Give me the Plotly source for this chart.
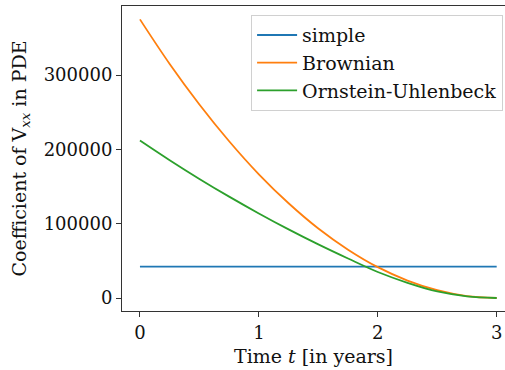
import plotly.graph_objects as go

t = [0, 0.25, 0.5, 0.75, 1.0, 1.25, 1.5, 1.75, 2.0, 2.25, 2.5, 2.75, 3.0]
simple = [42100] * len(t)
brownian = [375000, 315000, 260500, 211000, 166500, 127500, 93500, 65000, 41500, 23500, 10500, 2600, 0]
ou = [212000, 185500, 160300, 136400, 113800, 92300, 72100, 53100, 35000, 20500, 8800, 2300, 0]

names = ["simple", "Brownian", "Ornstein-Uhlenbeck"]
colors = ["#1f77b4", "#ff7f0e", "#2ca02c"]
x_ticks = [0, 1, 2, 3]
y_ticks = [0, 100000, 200000, 300000]

fig = go.Figure()
for name, ys, c in zip(names, [simple, brownian, ou], colors):
    fig.add_trace(go.Scatter(x=t, y=ys, mode="lines", name=name,
                             line=dict(color=c, width=1.8, shape="spline")))

fam = "DejaVu Serif"
fig.update_layout(
    width=505, height=370,
    margin=dict(l=122, r=0, t=6, b=59),
    paper_bgcolor="white", plot_bgcolor="white",
    font=dict(family=fam, size=18, color="#111"),
    showlegend=True,
    legend=dict(x=0.995, y=0.97, xanchor="right", yanchor="top",
                bgcolor="rgba(255,255,255,0.8)", bordercolor="#d0d0d0", borderwidth=1,
                font=dict(family=fam, size=19, color="#111"),
                tracegroupgap=0, itemwidth=40),
    xaxis=dict(range=[-0.151, 3.07], tickvals=x_ticks, ticktext=[str(v) for v in x_ticks],
               showgrid=False, zeroline=False, showline=True, linecolor="#333", linewidth=1,
               mirror=True, ticks="outside", ticklen=5, tickcolor="#333",
               tickfont=dict(family=fam, size=18, color="#111"),
               title=dict(text="Time <i>t</i> [in years]", standoff=8,
                          font=dict(family=fam, size=19, color="#111"))),
    yaxis=dict(range=[-17500, 393000], tickvals=y_ticks, ticktext=[str(v) for v in y_ticks],
               showgrid=False, zeroline=False, showline=True, linecolor="#333", linewidth=1,
               mirror=False, ticks="outside", ticklen=5, tickcolor="#333",
               tickfont=dict(family=fam, size=18, color="#111"),
               title=dict(text="Coefficient of V<sub><i>xx</i></sub> in PDE", standoff=12,
                          font=dict(family=fam, size=19, color="#111"))),
)
fig.write_html("out.html")
